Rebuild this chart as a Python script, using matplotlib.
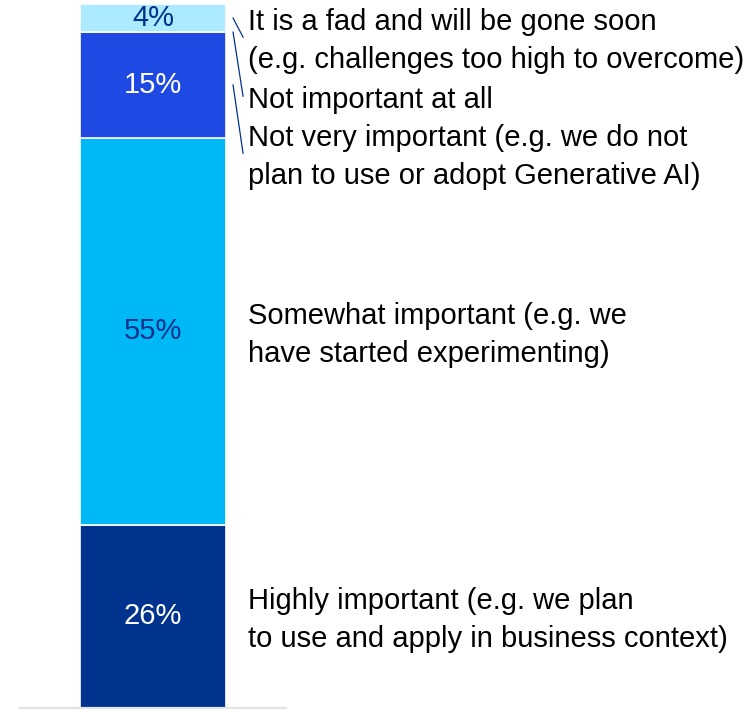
import numpy as np
import matplotlib.pyplot as plt

plt.rcParams["font.family"] = ["Liberation Sans", "DejaVu Sans"]

# stacked from bottom to top
categories = [
    "Highly important (e.g. we plan\nto use and apply in business context)",
    "Somewhat important (e.g. we\nhave started experimenting)",
    "Not very important (e.g. we do not\nplan to use or adopt Generative AI)",
    "Not important at all",
    "It is a fad and will be gone soon\n(e.g. challenges too high to overcome)",
]
values = [26, 55, 15, 0, 4]

colors = ["#00338D", "#00B8F5", "#1E49E2", "#7FD0F5", "#ACEAFF"]
pct_colors = ["white", "#00338D", "white", "white", "#00338D"]
# label y for small segments (moved apart), None = segment centre
label_y = [None, None, 78.8, 86.9, 95.3]

fig = plt.figure(figsize=(7.51, 7.10), dpi=100)
ax = fig.add_axes([20 / 751, 2 / 710, 266 / 751, 704 / 710])

bar_w = 1.098
bottoms = np.concatenate([[0], np.cumsum(values)[:-1]])
x_txt = 0.714
fs = 21
dy = -0.5  # small nudge so text sits like the original
for v, b, c, pc, lab, ly in zip(values, bottoms, colors, pct_colors, categories, label_y):
    mid = b + v / 2
    if v > 0:
        ax.bar(0, v, bottom=b, width=bar_w, color=c, edgecolor="white", linewidth=1.2)
        ax.text(0, mid, f"{v}%", ha="center", va="center", color=pc, fontsize=fs)
    if ly is None:
        ax.text(x_txt, mid + dy, lab, ha="left", va="center", fontsize=fs,
                linespacing=1.45, clip_on=False)
    else:
        ax.plot([0.602, 0.677], [mid, ly], color="#00338D", lw=0.9, clip_on=False)
        ax.text(x_txt, ly + dy, lab, ha="left", va="center", fontsize=fs,
                linespacing=1.45, clip_on=False)

ax.set_xlim(-1, 1)
ax.set_ylim(0, 100)
ax.set_xticks([])
ax.set_yticks([])
for s in ["top", "right", "left"]:
    ax.spines[s].set_visible(False)
ax.spines["bottom"].set_color("#E3E3E3")
ax.spines["bottom"].set_linewidth(1.6)

fig.savefig("out.png", dpi=100)
